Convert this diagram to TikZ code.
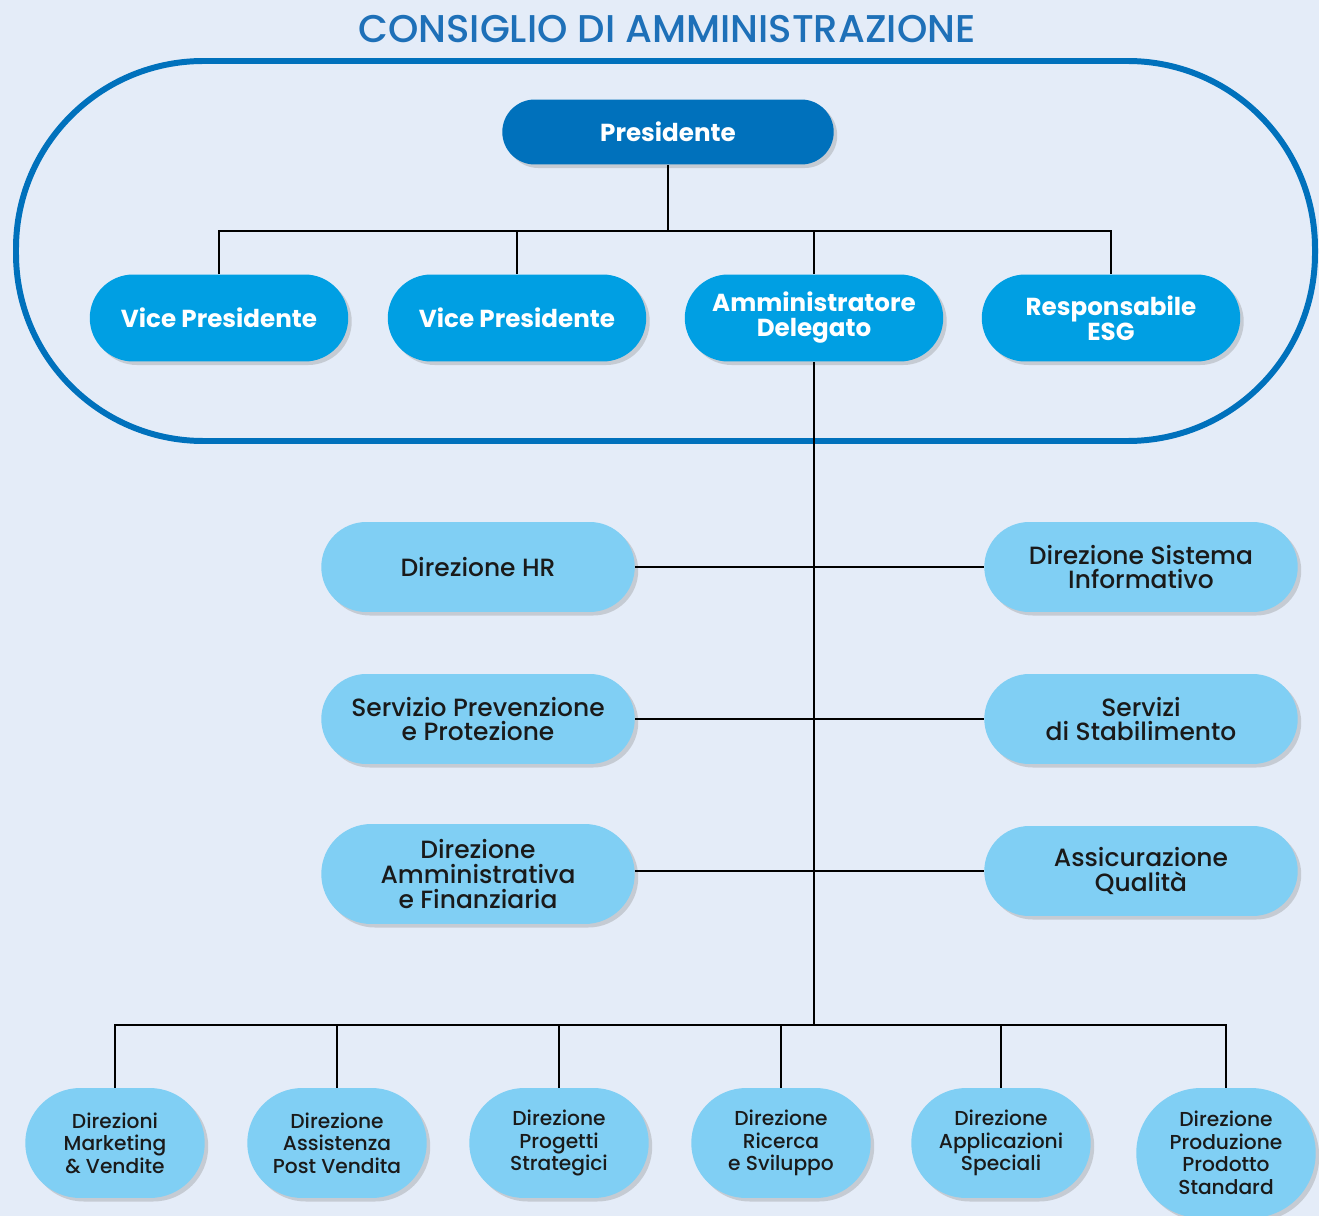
\documentclass[tikz,border=0pt]{standalone}
\usepackage{fontspec}
\setmainfont{Poppins}
\newfontfamily\medfont{Poppins Medium}
\usetikzlibrary{shapes.misc,shadows}
\definecolor{cdablue}{HTML}{0071BC}
\definecolor{vpblue}{HTML}{009FE3}
\definecolor{dirblue}{HTML}{80CFF4}
\definecolor{pagebg}{HTML}{E4ECF8}
\definecolor{titleblue}{HTML}{1E70B8}
\definecolor{inkgray}{HTML}{1A1A1A}

\begin{document}
\begin{tikzpicture}[x=0.02cm,y=-0.02cm,
    pill/.style={rounded rectangle,inner sep=1pt,align=center,
      drop shadow={shadow xshift=2pt,shadow yshift=-2pt,opacity=0.3}},
    toppill/.style={pill,fill=vpblue,text=white,minimum width=5.24cm,minimum height=1.74cm,
      font=\bfseries\fontsize{14}{14.2}\selectfont},
    midpill/.style={pill,fill=dirblue,text=inkgray,minimum width=6.34cm,minimum height=1.8cm,
      font=\medfont\fontsize{14.2}{14.2}\selectfont},
    lowpill/.style={pill,fill=dirblue,text=inkgray,minimum width=3.66cm,minimum height=2.2cm,
      font=\medfont\fontsize{11.5}{12.8}\selectfont},
    link/.style={line width=1.4pt,black}]
    \useasboundingbox (0,0) rectangle (1319,1216);
    \fill[pagebg] (0,0) rectangle (1319,1216);

    % consiglio
    \node[text=titleblue,font=\medfont\fontsize{22}{24}\selectfont] (title) at (667,29) {CONSIGLIO DI AMMINISTRAZIONE};
    \draw[cdablue,line width=3.4pt,rounded corners=3.75cm] (16,61) rectangle (1315,441);

    \node[pill,fill=cdablue,text=white,minimum width=6.7cm,minimum height=1.3cm,
      font=\bfseries\fontsize{14}{14.2}\selectfont] (pres) at (668,132) {Presidente};
    \node[toppill] (vp1) at (219,318) {Vice Presidente};
    \node[toppill] (vp2) at (517,318) {Vice Presidente};
    \node[toppill] (ad) at (814,318) {Amministratore\\Delegato};
    \node[toppill] (esg) at (1111,318) {Responsabile\\ESG};

    \coordinate (topbar) at (668,231);
    \draw[link] (pres.south) -- (topbar);
    \draw[link] (vp1.north) -- (vp1.north |- topbar) -- (esg.north |- topbar) -- (esg.north);
    \draw[link] (vp2.north) -- (vp2.north |- topbar);
    \draw[link] (ad.north) -- (ad.north |- topbar);

    % direzioni centrali
    \node[midpill] (hr) at (478,567) {Direzione HR};
    \node[midpill] (spp) at (478,719) {Servizio Prevenzione\\e Protezione};
    \node[midpill,minimum height=2cm] (daf) at (478,874) {Direzione\\Amministrativa\\e Finanziaria};
    \node[midpill] (dsi) at (1141,567) {Direzione Sistema\\Informativo};
    \node[midpill] (sds) at (1141,719) {Servizi\\di Stabilimento};
    \node[midpill] (aq) at (1141,871) {Assicurazione\\Qualità};

    \coordinate (botbar) at (814,1025);
    \draw[link] (ad.south) -- (ad.south |- botbar);
    \draw[link] (hr.east) -- (dsi.west);
    \draw[link] (spp.east) -- (sds.west);
    \draw[link] (daf.east |- aq.west) -- (aq.west);

    % direzioni operative
    \node[lowpill] (mkt) at (115,1143) {Direzioni\\Marketing\\\& Vendite};
    \node[lowpill] (apv) at (337,1143) {Direzione\\Assistenza\\Post Vendita};
    \node[lowpill] (dps) at (559,1143) {Direzione\\Progetti\\Strategici};
    \node[lowpill] (rs) at (781,1143) {Direzione\\Ricerca\\e Sviluppo};
    \node[lowpill] (aps) at (1001,1143) {Direzione\\Applicazioni\\Speciali};
    \node[lowpill,minimum height=2.6cm] (pps) at (1226,1153) {Direzione\\Produzione\\Prodotto\\Standard};

    \draw[link] (mkt.north) -- (mkt.north |- botbar) -- (pps.north |- botbar) -- (pps.north);
    \foreach \n in {apv,dps,rs,aps}
      \draw[link] (\n.north) -- (\n.north |- botbar);
\end{tikzpicture}
\end{document}
